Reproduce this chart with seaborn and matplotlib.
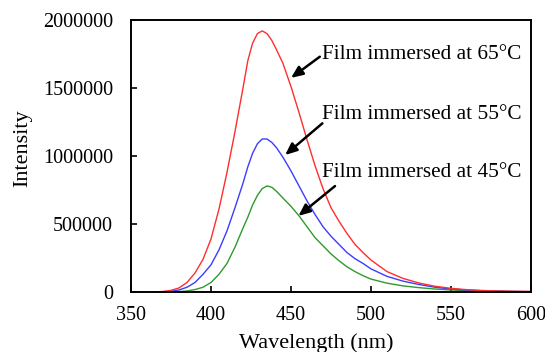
import seaborn as sns
import matplotlib.pyplot as plt
import pandas as pd

wavelength = [365, 370, 375, 380, 385, 390, 395, 400, 405, 410, 415, 420, 423,
              426, 429, 432, 435, 438, 441, 445, 450, 455, 460, 465, 470, 475,
              480, 485, 490, 495, 500, 510, 520, 530, 540, 550, 560, 570, 580,
              590, 600]

# intensity in units of 1e6 counts
int_65 = [0.0, 0.004, 0.012, 0.03, 0.07, 0.14, 0.24, 0.39, 0.61, 0.88, 1.18,
          1.50, 1.70, 1.83, 1.90, 1.92, 1.90, 1.85, 1.78, 1.68, 1.51, 1.32,
          1.12, 0.93, 0.76, 0.62, 0.52, 0.43, 0.35, 0.29, 0.235, 0.15, 0.10,
          0.066, 0.042, 0.027, 0.017, 0.011, 0.007, 0.005, 0.004]

int_55 = [0.0, 0.001, 0.005, 0.015, 0.035, 0.07, 0.13, 0.20, 0.31, 0.45, 0.62,
          0.80, 0.92, 1.02, 1.09, 1.125, 1.125, 1.10, 1.06, 0.99, 0.89, 0.78,
          0.67, 0.57, 0.48, 0.41, 0.35, 0.29, 0.245, 0.21, 0.17, 0.115, 0.08,
          0.055, 0.035, 0.022, 0.014, 0.009, 0.006, 0.004, 0.003]

int_45 = [0.0, 0.0, 0.001, 0.003, 0.008, 0.018, 0.035, 0.07, 0.13, 0.21, 0.33,
          0.47, 0.55, 0.64, 0.71, 0.76, 0.78, 0.77, 0.74, 0.69, 0.63, 0.56,
          0.48, 0.40, 0.34, 0.28, 0.23, 0.185, 0.15, 0.12, 0.095, 0.065, 0.045,
          0.032, 0.022, 0.015, 0.01, 0.007, 0.005, 0.003, 0.002]

labels = ['Film immersed at 45°C', 'Film immersed at 55°C', 'Film immersed at 65°C']
colors = ['#2e9a2e', '#3c3cff', '#ff2e2e']

frames = []
for lab, vals in zip(labels, [int_45, int_55, int_65]):
    frames.append(pd.DataFrame({'Wavelength': wavelength,
                                'Intensity': [v * 1e6 for v in vals],
                                'Film': lab}))
df = pd.concat(frames, ignore_index=True)

sns.set_style('ticks')
plt.rcParams['font.family'] = ['Liberation Serif', 'DejaVu Serif']
for key in ['text.color', 'axes.labelcolor', 'xtick.color', 'ytick.color',
            'axes.edgecolor']:
    plt.rcParams[key] = 'black'

fig = plt.figure(figsize=(5.45, 3.52), dpi=100)
ax = fig.add_axes([131 / 545, 1 - 292 / 352, 400 / 545, 272 / 352])

sns.lineplot(data=df, x='Wavelength', y='Intensity', hue='Film',
             palette=dict(zip(labels, colors)), linewidth=1.0,
             legend=False, ax=ax)

ax.set_xlim(350, 600)
ax.set_ylim(0, 2000000)
ax.set_xticks([350, 400, 450, 500, 550, 600])
ax.set_yticks([0, 500000, 1000000, 1500000, 2000000])
ax.ticklabel_format(style='plain', useOffset=False)
ax.tick_params(direction='in', length=4, width=1.2, labelsize=14.5)
ax.tick_params(axis='x', pad=10)
ax.tick_params(axis='y', pad=13)
for sp in ax.spines.values():
    sp.set_visible(True)
    sp.set_linewidth(1.4)

ax.set_xlabel('Wavelength (nm)', fontsize=16)
ax.set_ylabel('Intensity', fontsize=16)
ax.xaxis.set_label_coords(0.463, -0.15)
ax.yaxis.set_label_coords(-0.247, 0.53)

arrow = dict(arrowstyle='-|>,head_length=0.7,head_width=0.3', color='black',
             lw=1.8, shrinkA=0, shrinkB=0)
# (tip, tail, text position)
notes = [
    ('Film immersed at 65°C', (450, 1574000), (468, 1730000), (469.6, 1743000)),
    ('Film immersed at 55°C', (446.3, 1007000), (469.6, 1240000), (469.6, 1307000)),
    ('Film immersed at 45°C', (454.6, 559000), (477.5, 779000), (469.6, 880000)),
]
for text, tip, tail, pos in notes:
    ax.annotate('', xy=tip, xytext=tail, arrowprops=arrow)
    ax.text(pos[0], pos[1], text, fontsize=15.3, ha='left', va='center')

fig.savefig('out.png', dpi=100)
